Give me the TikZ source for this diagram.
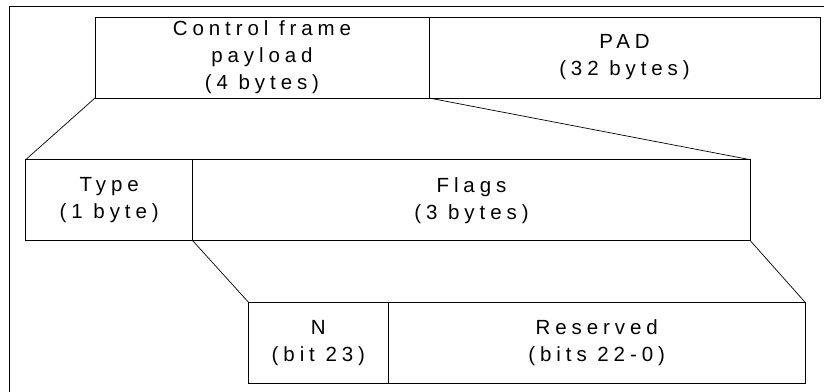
\documentclass[tikz,border=0pt]{standalone}
\usepackage{fontspec}
\setmainfont{Liberation Sans}[LetterSpace=24]
\usetikzlibrary{positioning}

\tikzstyle{field} = [rectangle, draw, minimum height=81pt, align=center, inner sep=0pt, outer sep=0pt, font=\fontsize{20.5}{27}\selectfont]
\tikzstyle{link} = [line width=0.7pt]

\begin{document}
\begin{tikzpicture}[x=1pt, y=-1pt, line width=0.8pt]
    \useasboundingbox (0,0) rectangle (824,391);
    \clip (0,0) rectangle (824,391);
    % Frame
    \draw (9,6.5) rectangle (850,420);

    % Nodes
    \node (ctrl) [field, minimum width=334pt, anchor=north west] at (95,17) {Control frame\\payload\\(4 bytes)};
    \node (pad) [field, minimum width=391pt, right=0pt of ctrl] {PAD\\(32 bytes)};
    \node (type) [field, minimum width=167pt, anchor=north west] at (25.7,159.7) {Type\\(1 byte)};
    \node (flags) [field, minimum width=557.6pt, right=0pt of type] {Flags\\(3 bytes)};
    \node (nbit) [field, minimum width=139.3pt, anchor=north west] at (248.7,302.5) {N\\(bit 23)};
    \node (resv) [field, minimum width=417.3pt, right=0pt of nbit] {Reserved\\(bits 22-0)};

    % Links
    \draw [link] (ctrl.south west) -- (type.north west);
    \draw [link] (ctrl.south east) -- (flags.north east);
    \draw [link] (flags.south west) -- (nbit.north west);
    \draw [link] (flags.south east) -- (resv.north east);
\end{tikzpicture}
\end{document}
